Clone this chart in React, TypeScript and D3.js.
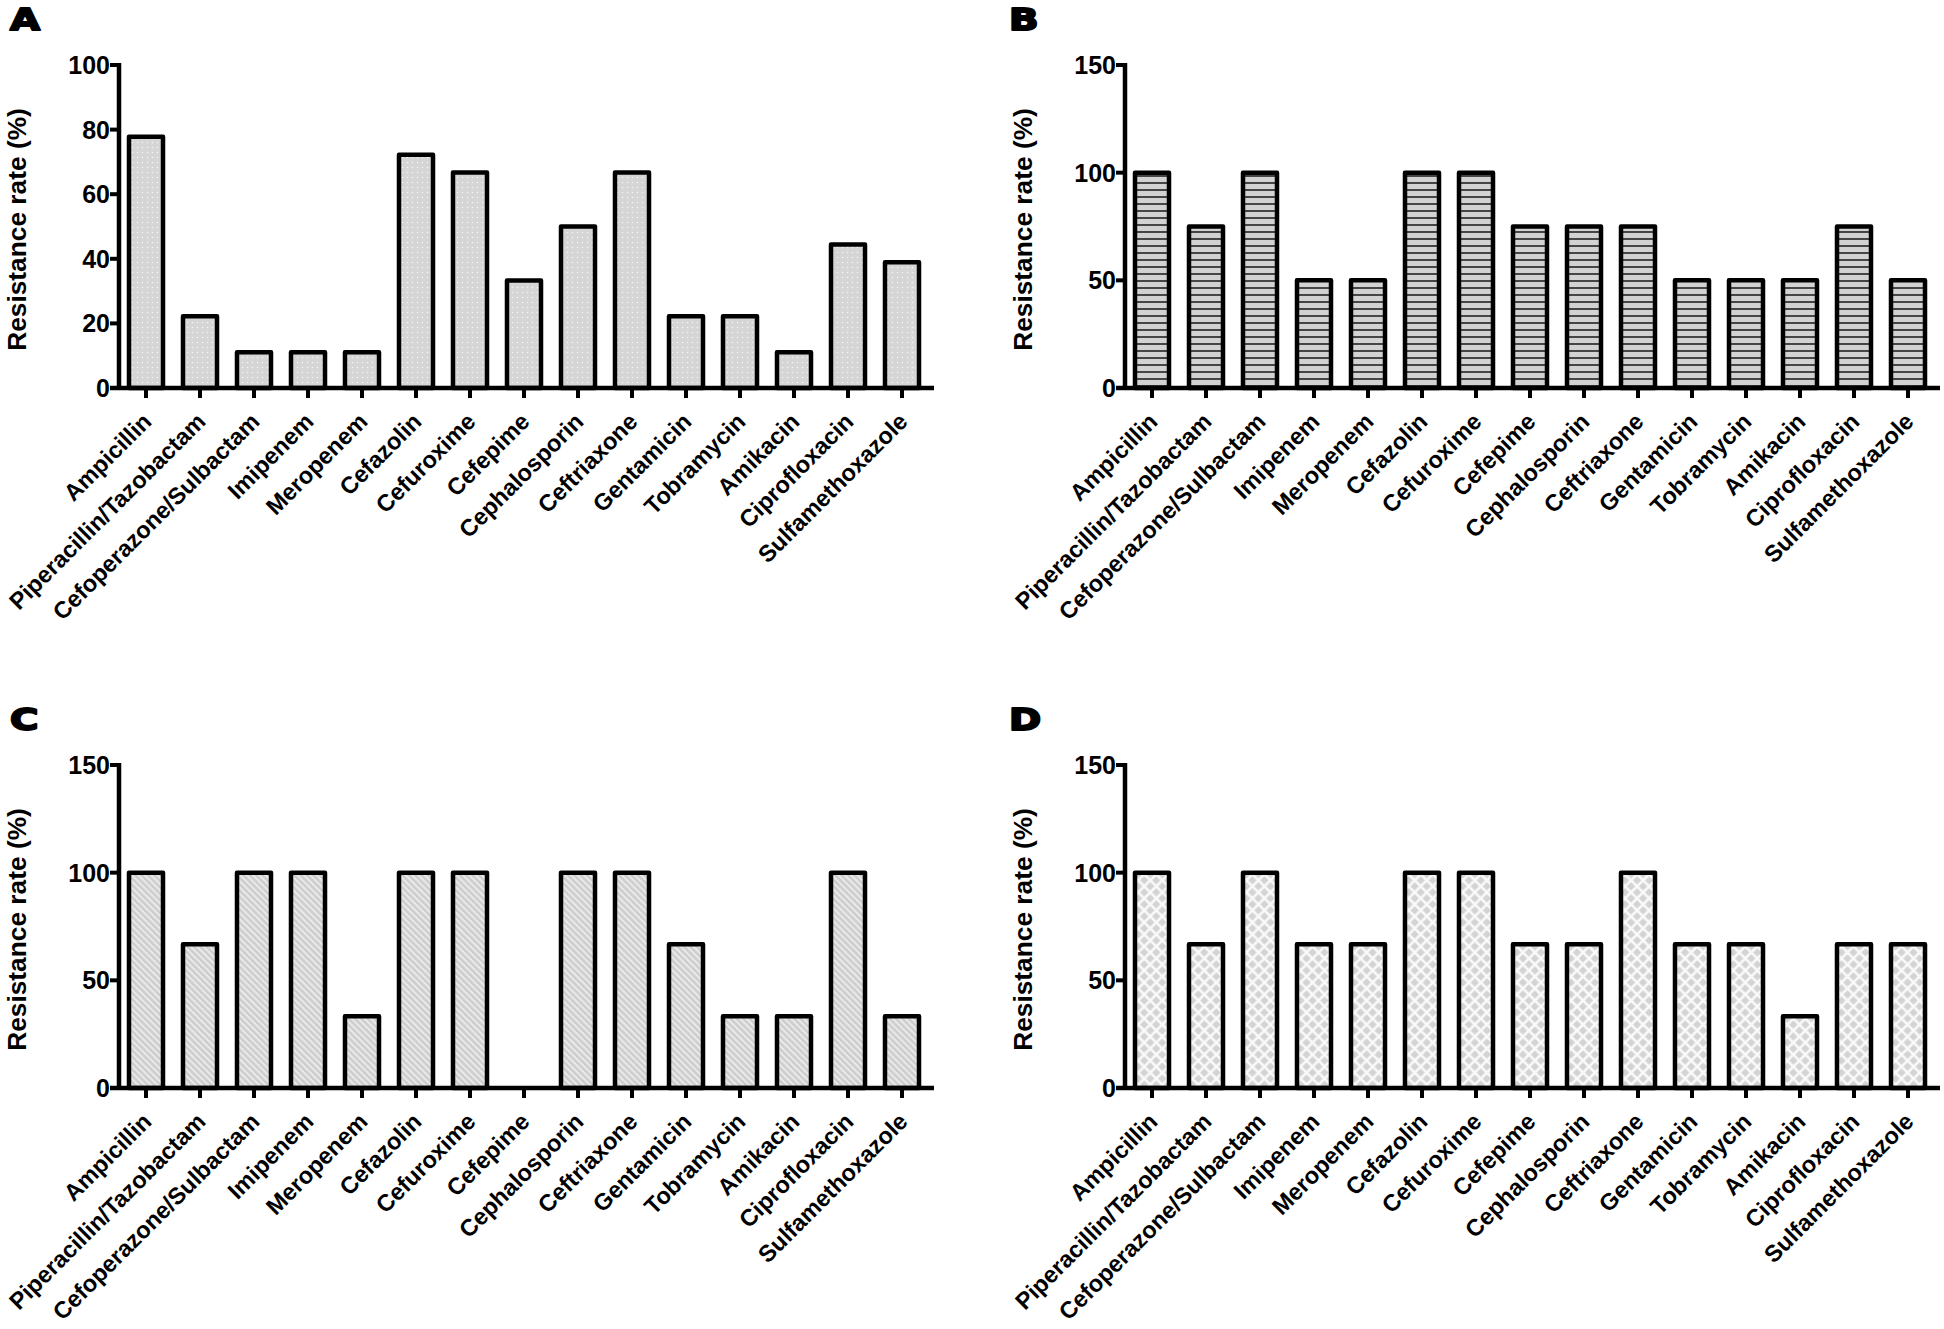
import React from "react";
import * as d3 from "d3";

const categories = [
  "Ampicillin",
  "Piperacillin/Tazobactam",
  "Cefoperazone/Sulbactam",
  "Imipenem",
  "Meropenem",
  "Cefazolin",
  "Cefuroxime",
  "Cefepime",
  "Cephalosporin",
  "Ceftriaxone",
  "Gentamicin",
  "Tobramycin",
  "Amikacin",
  "Ciprofloxacin",
  "Sulfamethoxazole",
];

const valuesA = [77.8, 22.2, 11.1, 11.1, 11.1, 72.2, 66.7, 33.3, 50, 66.7, 22.2, 22.2, 11.1, 44.4, 38.9];
const valuesB = [100, 75, 100, 50, 50, 100, 100, 75, 75, 75, 50, 50, 50, 75, 50];
const valuesC = [100, 66.7, 100, 100, 33.3, 100, 100, 0, 100, 100, 66.7, 33.3, 33.3, 100, 33.3];
const valuesD = [100, 66.7, 100, 66.7, 66.7, 100, 100, 66.7, 66.7, 100, 66.7, 66.7, 33.3, 66.7, 66.7];

const ticksA = [0, 20, 40, 60, 80, 100];
const ticksBCD = [0, 50, 100, 150];

const panelLabels = ["A", "B", "C", "D"];
const yTitle = "Resistance rate (%)";

const FONT = "'Liberation Sans', Arial, sans-serif";
const STEP = 54;

type Panel = {
  label: string;
  values: number[];
  yMax: number;
  ticks: number[];
  pattern: string;
  ox: number;
  oy: number;
};

const panels: Panel[] = [
  { label: panelLabels[0], values: valuesA, yMax: 100, ticks: ticksA, pattern: "patDots", ox: 0, oy: 0 },
  { label: panelLabels[1], values: valuesB, yMax: 150, ticks: ticksBCD, pattern: "patHoriz", ox: 1006, oy: 0 },
  { label: panelLabels[2], values: valuesC, yMax: 150, ticks: ticksBCD, pattern: "patDiag", ox: 0, oy: 700 },
  { label: panelLabels[3], values: valuesD, yMax: 150, ticks: ticksBCD, pattern: "patCross", ox: 1006, oy: 700 },
];

function BarPanel({ p }: { p: Panel }) {
  const axisX = 119;
  const yTop = 65;
  const y0 = 388;
  const x = d3
    .scaleBand<string>()
    .domain(categories)
    .range([axisX, axisX + categories.length * STEP])
    .paddingInner(0.37)
    .paddingOuter(0.185);
  const y = d3.scaleLinear().domain([0, p.yMax]).range([y0, yTop]);
  const bw = x.bandwidth();
  return (
    <g transform={`translate(${p.ox},${p.oy})`}>
      <text
        transform={`translate(${p.ox === 0 ? 10 : 3},30) scale(1.25,1)`}
        fontFamily="'DejaVu Sans', sans-serif"
        fontWeight={900}
        fontSize={31}
        stroke="#000"
        strokeWidth={2}
        strokeLinejoin="round"
        fill="#000"
      >
        {p.label}
      </text>
      <text
        transform={`translate(26,${(yTop + y0) / 2 + 3}) rotate(-90)`}
        textAnchor="middle"
        fontFamily={FONT}
        fontWeight="bold"
        fontSize={26.3}
        fill="#000"
      >
        {yTitle}
      </text>
      {categories.map((c, i) => {
        const v = p.values[i];
        if (v <= 0) return null;
        const bx = x(c)!;
        const by = y(v);
        return (
          <rect
            key={c}
            x={bx}
            y={by}
            width={bw}
            height={y0 - by}
            fill={`url(#${p.pattern})`}
            stroke="#000"
            strokeWidth={4.5}
            strokeLinejoin="round"
          />
        );
      })}
      {/* y axis */}
      <line x1={axisX} x2={axisX} y1={yTop - 2} y2={y0 + 2} stroke="#000" strokeWidth={4.5} />
      {p.ticks.map((t) => (
        <g key={t}>
          <line x1={axisX - 9} x2={axisX} y1={y(t)} y2={y(t)} stroke="#000" strokeWidth={4} />
          <text
            x={axisX - 9}
            y={y(t) + 9}
            textAnchor="end"
            fontFamily={FONT}
            fontWeight="bold"
            fontSize={25}
            fill="#000"
          >
            {t}
          </text>
        </g>
      ))}
      {/* x axis */}
      <line
        x1={axisX - 9}
        x2={axisX + categories.length * STEP + 5}
        y1={y0}
        y2={y0}
        stroke="#000"
        strokeWidth={4.5}
      />
      {categories.map((c) => {
        const cx = x(c)! + bw / 2;
        return (
          <g key={c}>
            <line x1={cx} x2={cx} y1={y0} y2={y0 + 10} stroke="#000" strokeWidth={4} />
            <text
              transform={`translate(${cx + 7},${y0 + 35}) rotate(-45)`}
              textAnchor="end"
              fontFamily={FONT}
              fontWeight="bold"
              fontSize={23.5}
              fill="#000"
            >
              {c}
            </text>
          </g>
        );
      })}
    </g>
  );
}

export default function App() {
  return (
    <svg
      width={1944}
      height={1329}
      style={{ position: "absolute", left: 0, top: 0, background: "#fff" }}
    >
      <defs>
        <pattern id="patDots" width={5} height={5} patternUnits="userSpaceOnUse">
          <rect width={5} height={5} fill="#d5d5d5" />
          <circle cx={2.5} cy={2.5} r={0.8} fill="#f4f4f4" />
        </pattern>
        <pattern id="patHoriz" width={8} height={7} patternUnits="userSpaceOnUse">
          <rect width={8} height={7} fill="#d2d2d2" />
          <line x1={0} x2={8} y1={1} y2={1} stroke="#222" strokeWidth={1.6} />
        </pattern>
        <pattern
          id="patDiag"
          width={4.5}
          height={4.5}
          patternUnits="userSpaceOnUse"
          patternTransform="rotate(-45)"
        >
          <rect width={4.5} height={4.5} fill="#cfcfcf" />
          <line x1={1} x2={1} y1={0} y2={4.5} stroke="#f2f2f2" strokeWidth={1.4} />
        </pattern>
        <pattern
          id="patCross"
          width={8.5}
          height={8.5}
          patternUnits="userSpaceOnUse"
          patternTransform="rotate(45)"
        >
          <rect width={8.5} height={8.5} fill="#fafafa" />
          <rect x={1.3} y={1.3} width={5.9} height={5.9} fill="#d3d3d3" />
        </pattern>
      </defs>
      <rect width={1944} height={1329} fill="#fff" />
      {panels.map((p) => (
        <BarPanel key={p.label} p={p} />
      ))}
    </svg>
  );
}
